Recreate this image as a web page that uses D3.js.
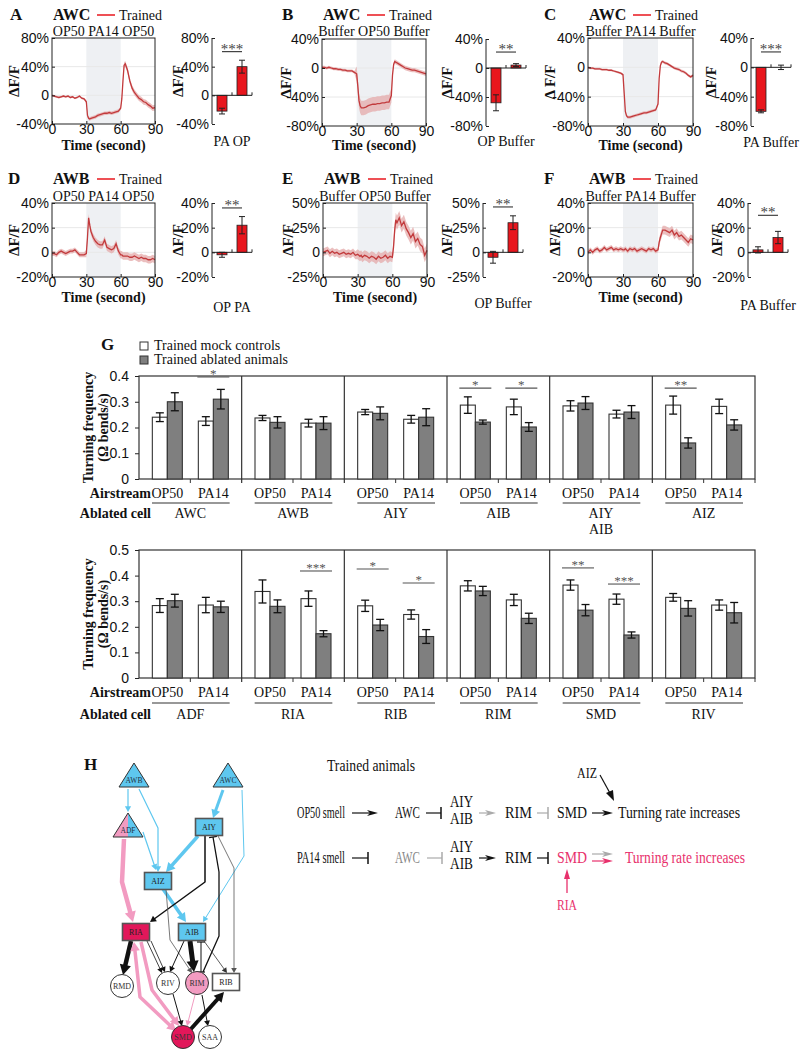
<!DOCTYPE html>
<html>
<head>
<meta charset="utf-8">
<script src="https://cdn.jsdelivr.net/npm/d3@7"></script>
<style>
  body { margin: 0; background: #fff; }
  svg { display: block; font-family: 'Liberation Serif', 'Times New Roman', serif; }
</style>
</head>
<body>
<svg id="fig" width="812" height="1050"></svg>
<script>
// ---------- data: calcium traces (ΔF/F, %) ----------
const traceTime = [0,2,4,6,8,10,12,14,16,18,20,22,24,26,28,30,31,32,33,34,36,38,40,42,44,46,48,50,52,54,56,58,60,61,62,63,64,66,68,70,72,74,76,78,80,82,84,86,88,90];

const traceA = [0,-1,-2,-3,-2,-1,-2,-1,-3,-2,-4,-3,-1,-4,-5,-9,-28,-32,-33,-32,-31,-30,-28,-27,-26,-25,-25,-24,-25,-24,-23,-22,-18,-5,20,42,44,35,20,10,4,0,-4,-6,-9,-10,-13,-15,-18,-17];
const traceB = [1,1,0,1,0,-1,-1,-2,-2,-3,-3,-4,-4,-4,-6,-8,-25,-45,-52,-55,-55,-54,-52,-51,-50,-50,-49,-49,-48,-48,-47,-47,-38,-10,5,9,8,6,4,2,0,-1,-2,-3,-3,-4,-5,-6,-7,-8];
const traceC = [0,-1,-1,-2,-2,-2,-3,-3,-3,-4,-4,-5,-6,-7,-8,-10,-35,-60,-66,-68,-68,-67,-66,-65,-64,-63,-62,-62,-61,-60,-59,-58,-50,-15,2,7,8,6,5,3,1,-1,-2,-3,-5,-6,-8,-11,-13,-11];
const traceD = [-1,-1,-2,0,1,0,-1,0,1,1,2,0,-2,-2,-2,-1,12,28,22,17,12,9,7,6,6,10,4,3,2,3,7,1,-2,-2,-3,-3,-3,-3,-4,-4,-3,-4,-5,-4,-5,-5,-6,-6,-5,-6];
const traceE = [0,1,2,-1,1,-1,0,-2,-1,0,-2,-1,-2,0,-3,-2,-3,-4,-3,-5,-3,-4,-6,-4,-5,-7,-4,-6,-5,-3,-6,-4,-5,5,22,33,30,35,27,31,24,20,15,19,11,14,8,6,-3,2];
const traceF = [0,2,0,2,3,1,2,4,2,3,4,2,3,2,3,2,2,3,2,1,3,2,3,1,2,3,2,1,3,2,3,1,2,8,12,15,18,18,17,16,18,14,16,13,14,12,10,8,11,10];

// SEM per phase: before / during / after stimulus
const semA = [1.5, 2.5, 4];
const semB = [2, 10, 3];
const semC = [1.5, 2, 2];
const semD = [2, 3, 3];
const semE = [4, 5, 7];
const semF = [2, 2, 3.5];

const stimA = ['OP50', 'PA14', 'OP50'];
const stimB = ['Buffer', 'OP50', 'Buffer'];
const stimC = ['Buffer', 'PA14', 'Buffer'];
const stimD = ['OP50', 'PA14', 'OP50'];
const stimE = ['Buffer', 'OP50', 'Buffer'];
const stimF = ['Buffer', 'PA14', 'Buffer'];

// ---------- data: response bars (ΔF/F, %) ----------
const barCatsA = ['PA', 'OP'];     const barValsA = [-22, 40];  const barErrA = [4, 9];
const barCatsB = ['OP', 'Buffer']; const barValsB = [-48, 4];   const barErrB = [11, 2];
const barCatsC = ['PA', 'Buffer']; const barValsC = [-60, 0];   const barErrC = [2, 3];
const barCatsD = ['OP', 'PA'];     const barValsD = [-2, 22];   const barErrD = [2, 7];
const barCatsE = ['OP', 'Buffer']; const barValsE = [-5, 30];   const barErrE = [6, 7];
const barCatsF = ['PA', 'Buffer']; const barValsF = [2, 12];    const barErrF = [2.5, 5];
const barSig = ['***', '**', '***', '**', '**', '**'];
const barSigLevel = [61, 22, 21, 36, 46, 30];

// ---------- data: panel G (turning frequency, Ω bends/s) ----------
const airstreams = ['OP50', 'PA14'];
const legendLabels = ['Trained mock controls', 'Trained ablated animals'];

const gTopCells = ['AWC', 'AWB', 'AIY', 'AIB', 'AIY\nAIB', 'AIZ'];
const gTopMock = [[0.24, 0.225], [0.237, 0.217], [0.26, 0.232], [0.287, 0.28], [0.284, 0.252], [0.287, 0.282]];
const gTopMockErr = [[0.017, 0.017], [0.01, 0.015], [0.01, 0.015], [0.032, 0.03], [0.02, 0.015], [0.035, 0.028]];
const gTopAbl = [[0.30, 0.31], [0.22, 0.217], [0.255, 0.24], [0.221, 0.202], [0.295, 0.26], [0.14, 0.21]];
const gTopAblErr = [[0.035, 0.038], [0.022, 0.025], [0.025, 0.033], [0.008, 0.017], [0.025, 0.025], [0.02, 0.02]];
const gTopSig = [
  { cell: 0, air: 1, text: '*', level: 0.396 },
  { cell: 3, air: 0, text: '*', level: 0.353 },
  { cell: 3, air: 1, text: '*', level: 0.353 },
  { cell: 5, air: 0, text: '**', level: 0.353 }
];

const gBotCells = ['ADF', 'RIA', 'RIB', 'RIM', 'SMD', 'RIV'];
const gBotMock = [[0.283, 0.285], [0.338, 0.31], [0.282, 0.248], [0.36, 0.305], [0.363, 0.308], [0.315, 0.285]];
const gBotMockErr = [[0.027, 0.03], [0.045, 0.03], [0.022, 0.018], [0.02, 0.022], [0.02, 0.02], [0.015, 0.02]];
const gBotAbl = [[0.302, 0.278], [0.28, 0.173], [0.207, 0.162], [0.34, 0.233], [0.265, 0.168], [0.272, 0.255]];
const gBotAblErr = [[0.025, 0.022], [0.025, 0.012], [0.022, 0.027], [0.018, 0.02], [0.022, 0.012], [0.03, 0.04]];
const gBotSig = [
  { cell: 1, air: 1, text: '***', level: 0.418 },
  { cell: 2, air: 0, text: '*', level: 0.426 },
  { cell: 2, air: 1, text: '*', level: 0.371 },
  { cell: 4, air: 0, text: '**', level: 0.43 },
  { cell: 4, air: 1, text: '***', level: 0.367 }
];

// ---------- drawing ----------
const svg = d3.select('#fig');
const RED = '#e8161d';
const TRACE = '#c23a3c';
const BAND = '#e4a9a9';
const INK = '#222';
const pct = d => d === 0 ? '0' : d + '%';

function txt(g, x, y, s, size, opts = {}) {
  const t = g.append('text').attr('x', x).attr('y', y).text(s)
    .attr('font-size', size).attr('fill', opts.fill || '#111');
  if (opts.bold) t.attr('font-weight', 'bold');
  if (opts.anchor) t.attr('text-anchor', opts.anchor);
  if (opts.len) t.attr('textLength', opts.len).attr('lengthAdjust', 'spacingAndGlyphs');
  return t;
}

function vlabel(g, x, y, s, size) {
  return g.append('text').attr('transform', `translate(${x},${y}) rotate(-90)`)
    .attr('text-anchor', 'middle').attr('dominant-baseline', 'central')
    .attr('font-size', size).attr('font-weight', 'bold').attr('fill', '#111').text(s);
}

function styleAxis(a, size) {
  a.select('.domain').remove();
  a.selectAll('text').attr('font-size', size).attr('font-family', null).attr('fill', '#111');
  a.selectAll('line').attr('stroke', INK);
}

function tracePanel(p) {
  const g = svg.append('g');
  const x = d3.scaleLinear().domain([0, 90]).range([p.x0, p.x1]);
  const y = d3.scaleLinear().domain(p.domain).range([p.y1, p.y0]);

  g.append('rect').attr('x', x(30)).attr('y', p.y0)
    .attr('width', x(60) - x(30)).attr('height', p.y1 - p.y0).attr('fill', '#eef0f3');
  g.selectAll('line.grid').data(p.ticks.slice(1, -1)).join('line').attr('class', 'grid')
    .attr('x1', p.x0).attr('x2', p.x1).attr('y1', d => y(d)).attr('y2', d => y(d))
    .attr('stroke', '#e8e8e8');

  const semAt = t => t < 30 ? p.sem[0] : (t <= 60 ? p.sem[1] : p.sem[2]);
  const area = d3.area()
    .x((d, i) => x(traceTime[i]))
    .y0((d, i) => y(d - semAt(traceTime[i])))
    .y1((d, i) => y(d + semAt(traceTime[i])));
  g.append('path').datum(p.mean).attr('d', area).attr('fill', BAND).attr('opacity', 0.75);
  const line = d3.line().x((d, i) => x(traceTime[i])).y(d => y(d));
  g.append('path').datum(p.mean).attr('d', line).attr('fill', 'none')
    .attr('stroke', TRACE).attr('stroke-width', 1.3);

  const ay = g.append('g').attr('transform', `translate(${p.x0},0)`)
    .call(d3.axisLeft(y).tickValues(p.ticks).tickFormat(pct).tickSizeInner(-3).tickSizeOuter(0).tickPadding(3));
  styleAxis(ay, 14);
  const ax = g.append('g').attr('transform', `translate(0,${p.y1})`)
    .call(d3.axisBottom(x).tickValues([0, 30, 60, 90]).tickSizeInner(-3).tickSizeOuter(0).tickPadding(0));
  styleAxis(ax, 14);
  g.append('rect').attr('x', p.x0).attr('y', p.y0).attr('width', p.x1 - p.x0)
    .attr('height', p.y1 - p.y0).attr('fill', 'none').attr('stroke', INK).attr('stroke-width', 1);

  txt(g, (p.x0 + p.x1) / 2, p.timeY, 'Time (second)', 14, { bold: true, anchor: 'middle' });
  txt(g, (p.x0 + p.x1) / 2, p.stimY, p.stim.join(' '), 14, { anchor: 'middle' });
  vlabel(g, p.ylabX, (p.y0 + p.y1) / 2, p.ylab || 'ΔF/F', 15);

  // title + legend
  txt(g, p.letterX, p.titleY, p.letter, 17, { bold: true });
  txt(g, p.x0 + 1, p.titleY, p.cell, 16, { bold: true });
  g.append('line').attr('x1', p.x0 + 45).attr('x2', p.x0 + 63)
    .attr('y1', p.titleY - 5).attr('y2', p.titleY - 5).attr('stroke', RED).attr('stroke-width', 1.5);
  txt(g, p.x0 + 67, p.titleY, 'Trained', 14);
}

function barPanel(p) {
  const g = svg.append('g');
  const y = d3.scaleLinear().domain(p.domain).range([p.y1, p.y0]);
  const x = d3.scaleBand().domain(p.cats).range([p.axisX, p.axisX + 40]).paddingInner(0.5).paddingOuter(0.25);

  const ay = g.append('g').attr('transform', `translate(${p.axisX},0)`)
    .call(d3.axisLeft(y).tickValues(p.ticks).tickFormat(pct).tickSizeInner(-3).tickSizeOuter(0).tickPadding(3));
  styleAxis(ay, 14);
  g.append('line').attr('x1', p.axisX).attr('x2', p.axisX).attr('y1', p.y0).attr('y2', p.y1).attr('stroke', INK);

  g.selectAll('rect.bar').data(p.vals).join('rect').attr('class', 'bar')
    .attr('x', (d, i) => x(p.cats[i])).attr('width', x.bandwidth())
    .attr('y', d => y(Math.max(0, d))).attr('height', d => Math.abs(y(d) - y(0)))
    .attr('fill', RED).attr('stroke', INK).attr('stroke-width', 0.8);

  g.append('line').attr('x1', p.axisX).attr('x2', p.axisX + 40).attr('y1', y(0)).attr('y2', y(0)).attr('stroke', INK);
  [p.axisX + 20, p.axisX + 40].forEach(tx => g.append('line').attr('x1', tx).attr('x2', tx)
    .attr('y1', y(0)).attr('y2', y(0) - 3).attr('stroke', INK));

  p.vals.forEach((v, i) => {
    const cx = x(p.cats[i]) + x.bandwidth() / 2;
    const lo = y(v - p.errs[i]), hi = y(v + p.errs[i]);
    g.append('line').attr('x1', cx).attr('x2', cx).attr('y1', lo).attr('y2', hi).attr('stroke', INK);
    [lo, hi].forEach(yy => g.append('line').attr('x1', cx - 3).attr('x2', cx + 3)
      .attr('y1', yy).attr('y2', yy).attr('stroke', INK));
  });

  const c0 = x(p.cats[0]) + x.bandwidth() / 2, c1 = x(p.cats[1]) + x.bandwidth() / 2;
  g.append('line').attr('x1', c0).attr('x2', c1).attr('y1', y(p.sigLevel)).attr('y2', y(p.sigLevel))
    .attr('stroke', '#444').attr('stroke-width', 1.2);
  txt(g, (c0 + c1) / 2, y(p.sigLevel) + 2, p.sig, 15, { anchor: 'middle', fill: '#444' });

  txt(g, p.axisX + 20, p.labelY, p.cats.join(' '), 14, { anchor: 'middle' });
  vlabel(g, p.ylabX, (p.y0 + p.y1) / 2, 'ΔF/F', 15);
}

const topRow = { titleY: 20, stimY: 36, timeY: 150 };
const botRow = { titleY: 184, stimY: 201, timeY: 302 };

tracePanel({ ...topRow, letter: 'A', letterX: 10, cell: 'AWC', x0: 52, x1: 155, y0: 38, y1: 124,
  domain: [-40, 80], ticks: [-40, 0, 40, 80], mean: traceA, sem: semA, stim: stimA, ylabX: 14 });
tracePanel({ ...topRow, letter: 'B', letterX: 282, cell: 'AWC', x0: 322, x1: 426, y0: 39, y1: 126,
  domain: [-80, 40], ticks: [-80, -40, 0, 40], mean: traceB, sem: semB, stim: stimB, ylabX: 286 });
tracePanel({ ...topRow, letter: 'C', letterX: 544, cell: 'AWC', x0: 588, x1: 693, y0: 38, y1: 126,
  domain: [-80, 40], ticks: [-80, -40, 0, 40], mean: traceC, sem: semC, stim: stimC, ylabX: 550, ylab: 'Δ  F/F' });
tracePanel({ ...botRow, letter: 'D', letterX: 8, cell: 'AWB', x0: 52, x1: 155, y0: 203, y1: 277,
  domain: [-20, 40], ticks: [-20, 0, 20, 40], mean: traceD, sem: semD, stim: stimD, ylabX: 14 });
tracePanel({ ...botRow, letter: 'E', letterX: 282, cell: 'AWB', x0: 323, x1: 427, y0: 203, y1: 277,
  domain: [-25, 50], ticks: [-25, 0, 25, 50], mean: traceE, sem: semE, stim: stimE, ylabX: 288 });
tracePanel({ ...botRow, letter: 'F', letterX: 544, cell: 'AWB', x0: 588, x1: 693, y0: 203, y1: 277,
  domain: [-20, 40], ticks: [-20, 0, 20, 40], mean: traceF, sem: semF, stim: stimF, ylabX: 555 });

barPanel({ axisX: 212, y0: 38, y1: 124, domain: [-40, 80], ticks: [-40, 0, 40, 80], cats: barCatsA, vals: barValsA,
  errs: barErrA, sig: barSig[0], sigLevel: barSigLevel[0], labelY: 146, ylabX: 178 });
barPanel({ axisX: 486, y0: 39, y1: 126, domain: [-80, 40], ticks: [-80, -40, 0, 40], cats: barCatsB, vals: barValsB,
  errs: barErrB, sig: barSig[1], sigLevel: barSigLevel[1], labelY: 146, ylabX: 447 });
barPanel({ axisX: 751, y0: 38, y1: 126, domain: [-80, 40], ticks: [-80, -40, 0, 40], cats: barCatsC, vals: barValsC,
  errs: barErrC, sig: barSig[2], sigLevel: barSigLevel[2], labelY: 147, ylabX: 711 });
barPanel({ axisX: 212, y0: 203, y1: 277, domain: [-20, 40], ticks: [-20, 0, 20, 40], cats: barCatsD, vals: barValsD,
  errs: barErrD, sig: barSig[3], sigLevel: barSigLevel[3], labelY: 312, ylabX: 178 });
barPanel({ axisX: 483, y0: 203, y1: 277, domain: [-25, 50], ticks: [-25, 0, 25, 50], cats: barCatsE, vals: barValsE,
  errs: barErrE, sig: barSig[4], sigLevel: barSigLevel[4], labelY: 308, ylabX: 447 });
barPanel({ axisX: 748, y0: 203, y1: 277, domain: [-20, 40], ticks: [-20, 0, 20, 40], cats: barCatsF, vals: barValsF,
  errs: barErrF, sig: barSig[5], sigLevel: barSigLevel[5], labelY: 310, ylabX: 717 });

// ---------- panel G ----------
function groupChart(p) {
  const g = svg.append('g');
  const gx = d3.scaleBand().domain(p.cells).range([139, 755]);
  const ax = d3.scalePoint().domain(airstreams).range([-23, 23]);
  const y = d3.scaleLinear().domain([0, p.max]).range([p.yB, p.yT]);
  const cx = (c, a) => gx(p.cells[c]) + gx.bandwidth() / 2 + ax(airstreams[a]);

  const ay = g.append('g').attr('transform', 'translate(139,0)')
    .call(d3.axisLeft(y).tickValues(p.ticks).tickFormat(d => d === 0 ? '0' : d.toFixed(1))
      .tickSizeInner(4).tickSizeOuter(0).tickPadding(6));
  styleAxis(ay, 14);
  g.append('rect').attr('x', 139).attr('y', p.yT).attr('width', 755 - 139).attr('height', p.yB - p.yT)
    .attr('fill', 'none').attr('stroke', '#333').attr('stroke-width', 1.2);
  p.cells.forEach((c, i) => {
    const x0 = gx(c);
    if (i > 0) g.append('line').attr('x1', x0).attr('x2', x0).attr('y1', p.yT).attr('y2', p.yB + 4)
      .attr('stroke', '#333').attr('stroke-width', 1.2);
    const mid = x0 + gx.bandwidth() / 2;
    g.append('line').attr('x1', mid).attr('x2', mid).attr('y1', p.yB).attr('y2', p.yB + 4).attr('stroke', '#333');
  });
  g.append('line').attr('x1', 755).attr('x2', 755).attr('y1', p.yB).attr('y2', p.yB + 4).attr('stroke', '#333');

  const series = [
    { vals: p.mock, errs: p.mockErr, fill: '#fff', off: -15 },
    { vals: p.abl, errs: p.ablErr, fill: '#7f7f7f', off: 0 }
  ];
  series.forEach(s => {
    s.vals.forEach((pair, c) => pair.forEach((v, a) => {
      const left = cx(c, a) + s.off;
      g.append('rect').attr('x', left).attr('width', 15).attr('y', y(v)).attr('height', p.yB - y(v))
        .attr('fill', s.fill).attr('stroke', '#333').attr('stroke-width', 1.1);
      const m = left + 7.5, e = s.errs[c][a];
      g.append('line').attr('x1', m).attr('x2', m).attr('y1', y(v - e)).attr('y2', y(v + e))
        .attr('stroke', '#111').attr('stroke-width', 1.3);
      [v - e, v + e].forEach(vv => g.append('line').attr('x1', m - 4).attr('x2', m + 4)
        .attr('y1', y(vv)).attr('y2', y(vv)).attr('stroke', '#111').attr('stroke-width', 1.3));
    }));
  });

  p.sig.forEach(s => {
    const c = cx(s.cell, s.air);
    g.append('line').attr('x1', c - 16).attr('x2', c + 16).attr('y1', y(s.level)).attr('y2', y(s.level))
      .attr('stroke', '#555').attr('stroke-width', 1.1);
    txt(g, c, y(s.level) + 1, s.text, 13, { anchor: 'middle', fill: '#555' });
  });

  p.cells.forEach((cell, c) => {
    airstreams.forEach((a, ai) => txt(g, cx(c, ai), p.airY, a, 14, { anchor: 'middle' }));
    const x0 = gx(cell);
    g.append('line').attr('x1', x0 + 13).attr('x2', x0 + gx.bandwidth() - 12)
      .attr('y1', p.ruleY).attr('y2', p.ruleY).attr('stroke', '#333').attr('stroke-width', 1.2);
    cell.split('\n').forEach((ln, li) => txt(g, x0 + gx.bandwidth() / 2, p.cellY + li * 16, ln, 14, { anchor: 'middle' }));
  });
  txt(g, 151, p.airY, 'Airstream', 14, { bold: true, anchor: 'end' });
  txt(g, 151, p.cellY, 'Ablated cell', 14, { bold: true, anchor: 'end' });

  const cy = (p.yT + p.yB) / 2;
  vlabel(g, 88, cy, 'Turning frequency', 14);
  vlabel(g, 103, cy, '(Ω bends/s)', 14);
}

const gLetter = svg.append('g');
txt(gLetter, 101, 350, 'G', 17, { bold: true });
legendLabels.forEach((l, i) => {
  gLetter.append('rect').attr('x', 140).attr('y', 342 + i * 14).attr('width', 8).attr('height', 8)
    .attr('fill', i === 0 ? '#fff' : '#7f7f7f').attr('stroke', '#333');
  txt(gLetter, 154, 350 + i * 14, l, 14);
});

groupChart({ cells: gTopCells, mock: gTopMock, mockErr: gTopMockErr, abl: gTopAbl, ablErr: gTopAblErr,
  sig: gTopSig, max: 0.4, ticks: [0, 0.1, 0.2, 0.3, 0.4], yT: 376, yB: 479, airY: 498, ruleY: 503, cellY: 518 });
groupChart({ cells: gBotCells, mock: gBotMock, mockErr: gBotMockErr, abl: gBotAbl, ablErr: gBotAblErr,
  sig: gBotSig, max: 0.5, ticks: [0, 0.1, 0.2, 0.3, 0.4, 0.5], yT: 550, yB: 678, airY: 697, ruleY: 703, cellY: 719 });

// ---------- panel H: circuit ----------
const BLUE = '#5ec7ef', PINK = '#f29bc1', CRIMSON = '#e2175a', HPINK = '#e8306c';
const netNodes = [
  { id: 'AWB', shape: 'tri', fill: BLUE }, { id: 'AWC', shape: 'tri', fill: BLUE },
  { id: 'ADF', shape: 'tri', fill: 'split' }, { id: 'AIY', shape: 'rect', fill: BLUE },
  { id: 'AIZ', shape: 'rect', fill: BLUE }, { id: 'RIA', shape: 'rect', fill: CRIMSON },
  { id: 'AIB', shape: 'rect', fill: BLUE }, { id: 'RMD', shape: 'circle', fill: '#fff' },
  { id: 'RIV', shape: 'circle', fill: '#fff' }, { id: 'RIM', shape: 'circle', fill: PINK },
  { id: 'RIB', shape: 'rect', fill: '#fff' }, { id: 'SMD', shape: 'circle', fill: CRIMSON },
  { id: 'SAA', shape: 'circle', fill: '#fff' }
];
const netLayout = {
  AWB: [134, 776], AWC: [228, 776], ADF: [128, 826], AIY: [209, 827], AIZ: [158, 881],
  RIA: [136, 932], AIB: [192, 932], RMD: [122, 986], RIV: [168, 983], RIM: [197, 983],
  RIB: [226, 982], SMD: [183, 1037], SAA: [210, 1037]
};
const netEdges = [
  { pts: [[128, 789], [128, 812]], color: BLUE, w: 1.2, end: 'arrow' },
  { pts: [[139, 789], [158, 828], [158, 872]], color: BLUE, w: 1.2, end: 'arrow' },
  { pts: [[143, 832], [156, 870]], color: BLUE, w: 1.2, end: 'arrow' },
  { pts: [[124, 839], [122, 882], [133, 922]], color: PINK, w: 4.5, end: 'arrow' },
  { pts: [[223, 790], [213, 818]], color: BLUE, w: 3, end: 'arrow' },
  { pts: [[242, 790], [244, 856], [203, 922]], color: BLUE, w: 1, end: 'arrow' },
  { pts: [[198, 836], [166, 872]], color: BLUE, w: 3.5, end: 'arrow' },
  { pts: [[163, 889], [186, 922]], color: BLUE, w: 3.5, end: 'arrow' },
  { pts: [[205, 836], [205, 882], [150, 922]], color: '#111', w: 1.5, end: 'arrow' },
  { pts: [[203, 972], [219, 936], [219, 872], [213, 837]], color: '#111', w: 1.3, end: 'bar' },
  { pts: [[218, 836], [234, 868], [234, 973]], color: '#555', w: 0.8, end: 'arrow' },
  { pts: [[166, 889], [170, 940], [192, 973]], color: '#555', w: 0.8, end: 'arrow' },
  { pts: [[131, 941], [123, 975]], color: '#111', w: 4.5, end: 'arrow' },
  { pts: [[134, 942], [140, 997], [176, 1031]], color: PINK, w: 3.5, end: 'arrow', start: 'arrow' },
  { pts: [[141, 942], [152, 990], [179, 1026]], color: PINK, w: 3.5, end: 'arrow' },
  { pts: [[147, 941], [162, 973]], color: '#111', w: 0.8, end: 'arrow' },
  { pts: [[151, 941], [165, 972]], color: '#111', w: 0.8, end: 'arrow' },
  { pts: [[184, 941], [170, 972]], color: '#111', w: 1, end: 'arrow' },
  { pts: [[190, 941], [194, 972]], color: '#111', w: 5, end: 'arrow' },
  { pts: [[201, 972], [201, 942]], color: '#111', w: 1, end: 'bar', start: 'bar' },
  { pts: [[204, 941], [227, 973]], color: '#333', w: 0.8, end: 'arrow' },
  { pts: [[173, 994], [182, 1026]], color: '#111', w: 1, end: 'arrow' },
  { pts: [[195, 995], [187, 1026]], color: PINK, w: 1, end: 'arrow' },
  { pts: [[202, 995], [208, 1026]], color: '#111', w: 1, end: 'arrow' },
  { pts: [[190, 1030], [224, 992]], color: '#111', w: 4, end: 'arrow' }
];

const net = svg.append('g');
txt(net, 84, 770, 'H', 17, { bold: true });

function unit(p, q) { const dx = q[0] - p[0], dy = q[1] - p[1], L = Math.hypot(dx, dy); return [dx / L, dy / L]; }
function headAt(p, q, len, color) {
  const [ux, uy] = unit(p, q), wd = len * 0.55;
  const bx = q[0] - ux * len, by = q[1] - uy * len;
  net.append('polygon').attr('points', [q, [bx - uy * wd, by + ux * wd], [bx + uy * wd, by - ux * wd]].join(' '))
    .attr('fill', color);
}
function barAt(p, q, color, w) {
  const [ux, uy] = unit(p, q);
  net.append('line').attr('x1', q[0] - uy * 4).attr('y1', q[1] + ux * 4).attr('x2', q[0] + uy * 4).attr('y2', q[1] - ux * 4)
    .attr('stroke', color).attr('stroke-width', Math.max(1.2, w));
}
netEdges.forEach(e => {
  const pts = e.pts.map(d => d.slice());
  const hl = 4 + e.w * 1.4, n = pts.length;
  if (e.end === 'arrow') { const [ux, uy] = unit(pts[n - 2], pts[n - 1]); pts[n - 1] = [pts[n - 1][0] - ux * hl * 0.7, pts[n - 1][1] - uy * hl * 0.7]; }
  if (e.start === 'arrow') { const [ux, uy] = unit(pts[1], pts[0]); pts[0] = [pts[0][0] - ux * hl * 0.7, pts[0][1] - uy * hl * 0.7]; }
  net.append('path').attr('d', d3.line()(pts)).attr('fill', 'none').attr('stroke', e.color)
    .attr('stroke-width', e.w).attr('stroke-linejoin', 'round');
  if (e.end === 'arrow') headAt(e.pts[n - 2], e.pts[n - 1], hl, e.color);
  if (e.start === 'arrow') headAt(e.pts[1], e.pts[0], hl, e.color);
  if (e.end === 'bar') barAt(e.pts[n - 2], e.pts[n - 1], e.color, e.w);
  if (e.start === 'bar') barAt(e.pts[1], e.pts[0], e.color, e.w);
});

netNodes.forEach(nd => {
  const [x, y] = netLayout[nd.id];
  if (nd.shape === 'tri') {
    const apex = [x, y - 13], bl = [x - 15, y + 11], br = [x + 15, y + 11];
    if (nd.fill === 'split') {
      net.append('polygon').attr('points', [apex, bl, [x, y + 11]].join(' ')).attr('fill', PINK);
      net.append('polygon').attr('points', [apex, [x, y + 11], br].join(' ')).attr('fill', BLUE);
      net.append('polygon').attr('points', [apex, bl, br].join(' ')).attr('fill', 'none').attr('stroke', '#333');
    } else {
      net.append('polygon').attr('points', [apex, bl, br].join(' ')).attr('fill', nd.fill).attr('stroke', '#333');
    }
    txt(net, x, y + 7, nd.id, 7.5, { anchor: 'middle', fill: '#234' });
  } else if (nd.shape === 'rect') {
    net.append('rect').attr('x', x - 13.5).attr('y', y - 8.5).attr('width', 27).attr('height', 17)
      .attr('fill', nd.fill).attr('stroke', '#555').attr('stroke-width', 1.6);
    txt(net, x, y + 3, nd.id, 8, { anchor: 'middle', fill: '#222' });
  } else {
    net.append('circle').attr('cx', x).attr('cy', y).attr('r', 11.5)
      .attr('fill', nd.fill).attr('stroke', '#333').attr('stroke-width', 1);
    txt(net, x, y + 3, nd.id, 8, { anchor: 'middle', fill: '#333' });
  }
});

// ---------- panel H: pathway summary ----------
const hr = svg.append('g');
function hArrow(x1, x2, y, color) {
  hr.append('line').attr('x1', x1).attr('x2', x2 - 6).attr('y1', y).attr('y2', y).attr('stroke', color).attr('stroke-width', 1.2);
  hr.append('polygon').attr('points', [[x2, y], [x2 - 11, y - 3], [x2 - 8, y], [x2 - 11, y + 3]].join(' ')).attr('fill', color);
}
function hInhib(x1, x2, y, color) {
  hr.append('line').attr('x1', x1).attr('x2', x2).attr('y1', y).attr('y2', y).attr('stroke', color).attr('stroke-width', 1.2);
  hr.append('line').attr('x1', x2).attr('x2', x2).attr('y1', y - 6).attr('y2', y + 6).attr('stroke', color).attr('stroke-width', 1.5);
}
const HS = 17;
txt(hr, 327, 771, 'Trained animals', HS, { len: 88 });

// row 1: OP50
txt(hr, 297, 818, 'OP50 smell', HS, { len: 48 });
hArrow(352, 378, 813, '#111');
txt(hr, 395, 818, 'AWC', HS, { len: 25 });
hInhib(426, 441, 813, '#111');
txt(hr, 450, 807, 'AIY', HS, { len: 23 });
txt(hr, 450, 824, 'AIB', HS, { len: 23 });
hArrow(479, 496, 813, '#aaa');
txt(hr, 505, 818, 'RIM', HS, { len: 27 });
hInhib(537, 548, 813, '#aaa');
txt(hr, 557, 818, 'SMD', HS, { len: 30 });
hArrow(592, 613, 813, '#111');
txt(hr, 618, 818, 'Turning rate increases', HS, { len: 122 });
txt(hr, 577, 778, 'AIZ', 15, { len: 20 });
hr.append('line').attr('x1', 600).attr('y1', 775).attr('x2', 611).attr('y2', 795).attr('stroke', '#111').attr('stroke-width', 1.2);
hr.append('polygon').attr('points', [[614, 801], [606, 793], [613, 790]].join(' ')).attr('fill', '#111');

// row 2: PA14
txt(hr, 297, 863, 'PA14 smell', HS, { len: 48 });
hInhib(352, 368, 858, '#111');
txt(hr, 395, 863, 'AWC', HS, { len: 25, fill: '#888' });
hInhib(427, 442, 858, '#aaa');
txt(hr, 450, 852, 'AIY', HS, { len: 23 });
txt(hr, 450, 869, 'AIB', HS, { len: 23 });
hArrow(479, 496, 858, '#111');
txt(hr, 505, 863, 'RIM', HS, { len: 27 });
hInhib(537, 548, 858, '#111');
txt(hr, 557, 863, 'SMD', HS, { len: 30, fill: HPINK });
hArrow(592, 613, 854, '#aaa');
hArrow(592, 613, 861, HPINK);
txt(hr, 625, 863, 'Turning rate increases', HS, { len: 120, fill: HPINK });
hr.append('line').attr('x1', 567).attr('x2', 567).attr('y1', 893).attr('y2', 876).attr('stroke', HPINK).attr('stroke-width', 1.3);
hr.append('polygon').attr('points', [[567, 869], [564, 879], [570, 879]].join(' ')).attr('fill', HPINK);
txt(hr, 567, 910, 'RIA', 14, { anchor: 'middle', fill: HPINK, len: 20 });
</script>
</body>
</html>
